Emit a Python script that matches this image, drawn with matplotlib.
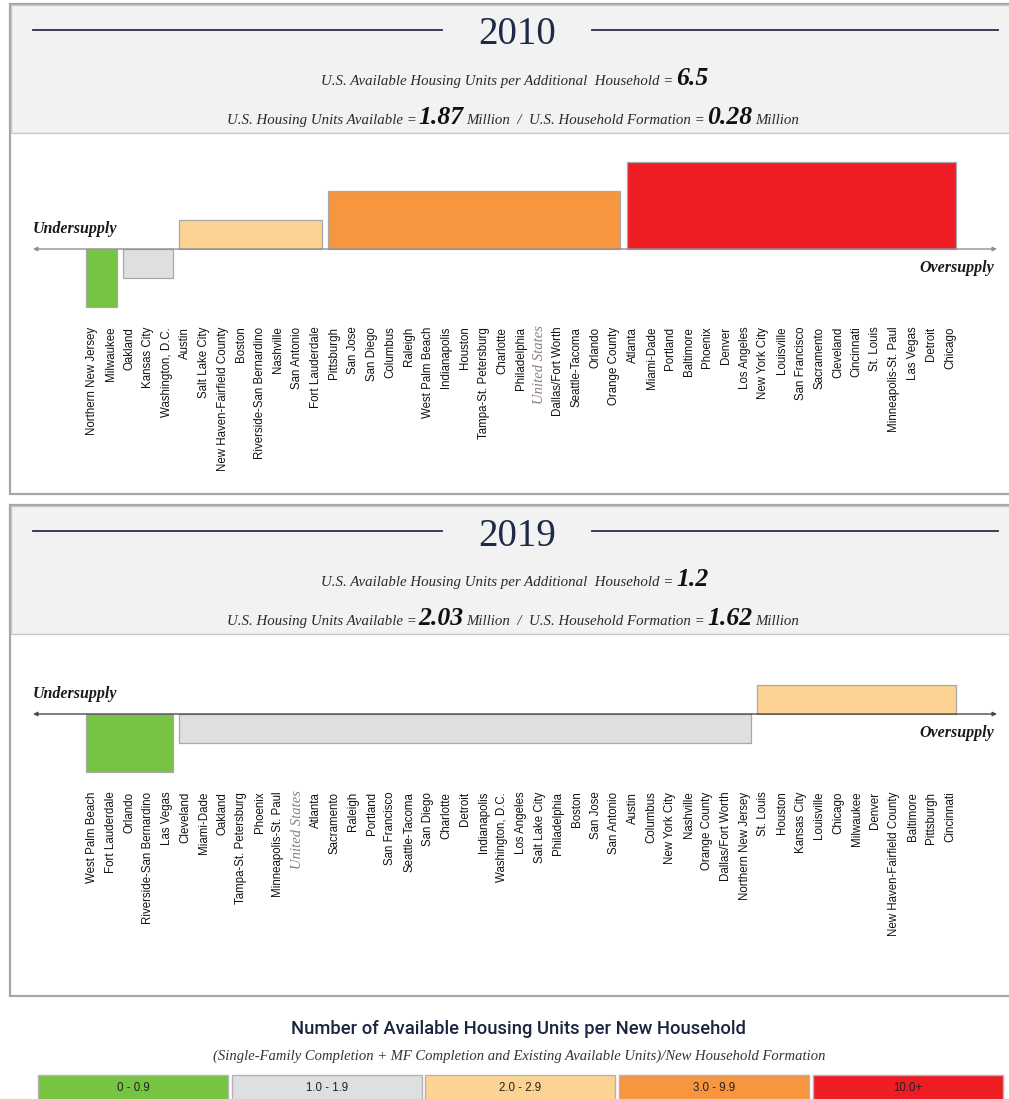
import matplotlib

matplotlib.use("Agg")
import matplotlib.pyplot as plt
from matplotlib import font_manager
from matplotlib.patches import Rectangle

W, H = 1009, 1099

# supply classes: legend text, fill colour, bar height (in class steps)
CLASS_LABELS = ["0 - 0.9", "1.0 - 1.9", "2.0 - 2.9", "3.0 - 9.9", "10.0+"]
CLASS_COLORS = ["#76c442", "#dedfe0", "#fdd394", "#f8953f", "#ee1d24"]
CLASS_HEIGHT = [-2, -1, 1, 2, 3]

YEARS = ["2010", "2019"]
US_RATIO = ["6.5", "1.2"]
US_UNITS = ["1.87", "2.03"]
US_FORMATION = ["0.28", "1.62"]

CITIES_2010 = [
    "Northern New Jersey", "Milwaukee", "Oakland", "Kansas City",
    "Washington, D.C.", "Austin", "Salt Lake City",
    "New Haven-Fairfield County", "Boston", "Riverside-San Bernardino",
    "Nashville", "San Antonio", "Fort Lauderdale", "Pittsburgh", "San Jose",
    "San Diego", "Columbus", "Raleigh", "West Palm Beach", "Indianapolis",
    "Houston", "Tampa-St. Petersburg", "Charlotte", "Philadelphia",
    "United States", "Dallas/Fort Worth", "Seattle-Tacoma", "Orlando",
    "Orange County", "Atlanta", "Miami-Dade", "Portland", "Baltimore",
    "Phoenix", "Denver", "Los Angeles", "New York City", "Louisville",
    "San Francisco", "Sacramento", "Cleveland", "Cincinnati", "St. Louis",
    "Minneapolis-St. Paul", "Las Vegas", "Detroit", "Chicago",
]
CLASS_2010 = [
    0, 0, 1, 1, 1, 2, 2, 2, 2, 2, 2, 2, 2, 3, 3, 3, 3, 3, 3, 3, 3, 3, 3, 3,
    3, 3, 3, 3, 3, 4, 4, 4, 4, 4, 4, 4, 4, 4, 4, 4, 4, 4, 4, 4, 4, 4, 4,
]

CITIES_2019 = [
    "West Palm Beach", "Fort Lauderdale", "Orlando",
    "Riverside-San Bernardino", "Las Vegas", "Cleveland", "Miami-Dade",
    "Oakland", "Tampa-St. Petersburg", "Phoenix", "Minneapolis-St. Paul",
    "United States", "Atlanta", "Sacramento", "Raleigh", "Portland",
    "San Francisco", "Seattle-Tacoma", "San Diego", "Charlotte", "Detroit",
    "Indianapolis", "Washington, D.C.", "Los Angeles", "Salt Lake City",
    "Philadelphia", "Boston", "San Jose", "San Antonio", "Austin", "Columbus",
    "New York City", "Nashville", "Orange County", "Dallas/Fort Worth",
    "Northern New Jersey", "St. Louis", "Houston", "Kansas City",
    "Louisville", "Chicago", "Milwaukee", "Denver",
    "New Haven-Fairfield County", "Baltimore", "Pittsburgh", "Cincinnati",
]
CLASS_2019 = [
    0, 0, 0, 0, 0, 1, 1, 1, 1, 1, 1, 1, 1, 1, 1, 1, 1, 1, 1, 1, 1, 1, 1, 1,
    1, 1, 1, 1, 1, 1, 1, 1, 1, 1, 1, 1, 2, 2, 2, 2, 2, 2, 2, 2, 2, 2, 2,
]


def pick(*names):
    have = {f.name for f in font_manager.fontManager.ttflist}
    for n in names:
        if n in have:
            return n
    return "DejaVu Sans"


SANS_N = pick("Liberation Sans Narrow", "Liberation Sans")
SERIF = pick("Liberation Serif", "DejaVu Serif")
TITLE = pick("Roboto", "Liberation Sans")
NAVY = "#1f2a48"

fig = plt.figure(figsize=(W / 100, H / 100), dpi=100)
bg = fig.add_axes([0, 0, 1, 1])
bg.set_xlim(0, W)
bg.set_ylim(H, 0)
bg.axis("off")
renderer = fig.canvas.get_renderer()


def rich_line(xc, y, pieces):
    # pieces: (text, style, gap after in px); laid out left to right, centred on xc
    texts, widths = [], []
    for s, kw, gap in pieces:
        t = bg.text(0, y, s, va="baseline", ha="left", **kw)
        texts.append(t)
        widths.append(t.get_window_extent(renderer).width + gap)
    x = xc - sum(widths) / 2
    for t, w in zip(texts, widths):
        t.set_x(x)
        x += w


def runs(classes):
    start = 0
    for i in range(1, len(classes) + 1):
        if i == len(classes) or classes[i] != classes[start]:
            yield start, i - 1, classes[start]
            start = i


def panel(top, bottom, year, ratio, units, formation, cities, classes,
          axis_y, arrow_color):
    bg.add_patch(Rectangle((10, top), 1010, bottom - top, fc="white",
                           ec="#a6a6a6", lw=1.6, zorder=1))
    bg.add_patch(Rectangle((11, top + 1), 1010, 128, fc="#f2f2f2",
                           ec="#c8c8c8", lw=1.0, zorder=1))
    ly = top + 26
    bg.plot([33, 442], [ly, ly], color="#2b2d4f", lw=1.3, zorder=2)
    bg.plot([592, 998], [ly, ly], color="#2b2d4f", lw=1.3, zorder=2)
    bg.text(517, ly + 5, year, ha="center", va="center", family=SERIF,
            fontsize=28, color=NAVY, zorder=3)

    small = dict(family=SERIF, style="italic", fontsize=10.7, color="#2a2a2a")
    big = dict(family=SERIF, style="italic", weight="bold", fontsize=18.5,
               color="#111111")
    rich_line(515, top + 81, [
        ("U.S. Available Housing Units per Additional  Household =", small, 3),
        (ratio, big, 0),
    ])
    rich_line(513, top + 120, [
        ("U.S. Housing Units Available =", small, 2),
        (units, big, 3),
        ("Million  /  U.S. Household Formation =", small, 2),
        (formation, big, 3),
        ("Million", small, 0),
    ])

    # bar chart area, index 0 sits at x = 92 px, one city per 18.65 px,
    # one class step is 29 px tall
    x0, x1, y0, y1 = 30, 1000, top + 136, bottom - 5
    step, first, unit = 18.65, 92, 29.0
    ax = fig.add_axes([x0 / W, 1 - y1 / H, (x1 - x0) / W, (y1 - y0) / H])
    ax.set_xlim((x0 - first) / step, (x1 - first) / step)
    ax.set_ylim(-(y1 - axis_y) / unit, (axis_y - y0) / unit)
    ax.axis("off")
    ax.patch.set_alpha(0)

    inset = 0.17
    for a, b, c in runs(classes):
        ax.bar((a + b) / 2, CLASS_HEIGHT[c], width=(b - a + 1) - 2 * inset,
               color=CLASS_COLORS[c], edgecolor="#a8a8a8", linewidth=0.9,
               zorder=2)

    xl, xr = (33 - first) / step, (997 - first) / step
    ax.annotate("", xy=(xl, 0), xytext=(xr, 0),
                arrowprops=dict(arrowstyle="<|-|>", color=arrow_color, lw=1.0,
                                mutation_scale=6, shrinkA=0, shrinkB=0),
                zorder=3)
    lab = dict(family=SERIF, style="italic", weight="bold", fontsize=11.5,
               color="#1a1a1a")
    ax.text(xl, 0.7, "Undersupply", ha="left", va="center", **lab)
    ax.text((994 - first) / step, -0.65, "Oversupply", ha="right",
            va="center", **lab)

    for i, name in enumerate(cities):
        if name == "United States":
            ax.text(i, -2.62, name, rotation=90, ha="center", va="top",
                    family=SERIF, style="italic", fontsize=10.5,
                    color="#8c7f78")
        else:
            ax.text(i, -2.68, name, rotation=90, ha="center", va="top",
                    family=SANS_N, fontsize=8.3, color="#111111")


panel(4, 494, YEARS[0], US_RATIO[0], US_UNITS[0], US_FORMATION[0],
      CITIES_2010, CLASS_2010, 249, "#8f8f8f")
panel(505, 996, YEARS[1], US_RATIO[1], US_UNITS[1], US_FORMATION[1],
      CITIES_2019, CLASS_2019, 714, "#4a4a4a")

# colour key
bg.text(518, 1029, "Number of Available Housing Units per New Household",
        ha="center", va="center", family=TITLE, weight="medium",
        fontsize=13.2, color="#1b2440")
bg.text(519, 1056,
        "(Single-Family Completion + MF Completion and Existing Available "
        "Units)/New Household Formation",
        ha="center", va="center", family=SERIF, style="italic", fontsize=10.5,
        color="#333333")
key_x = [38, 232, 425, 619, 813]
key_w = 190
for x, lbl, col in zip(key_x, CLASS_LABELS, CLASS_COLORS):
    bg.add_patch(Rectangle((x, 1075), key_w, 40, fc=col, ec="#b3b3b3",
                           lw=1.0))
    bg.text(x + key_w / 2, 1088, lbl, ha="center", va="center",
            family=SANS_N, fontsize=8.3, color="#222222")

fig.savefig("out.png", dpi=100)
